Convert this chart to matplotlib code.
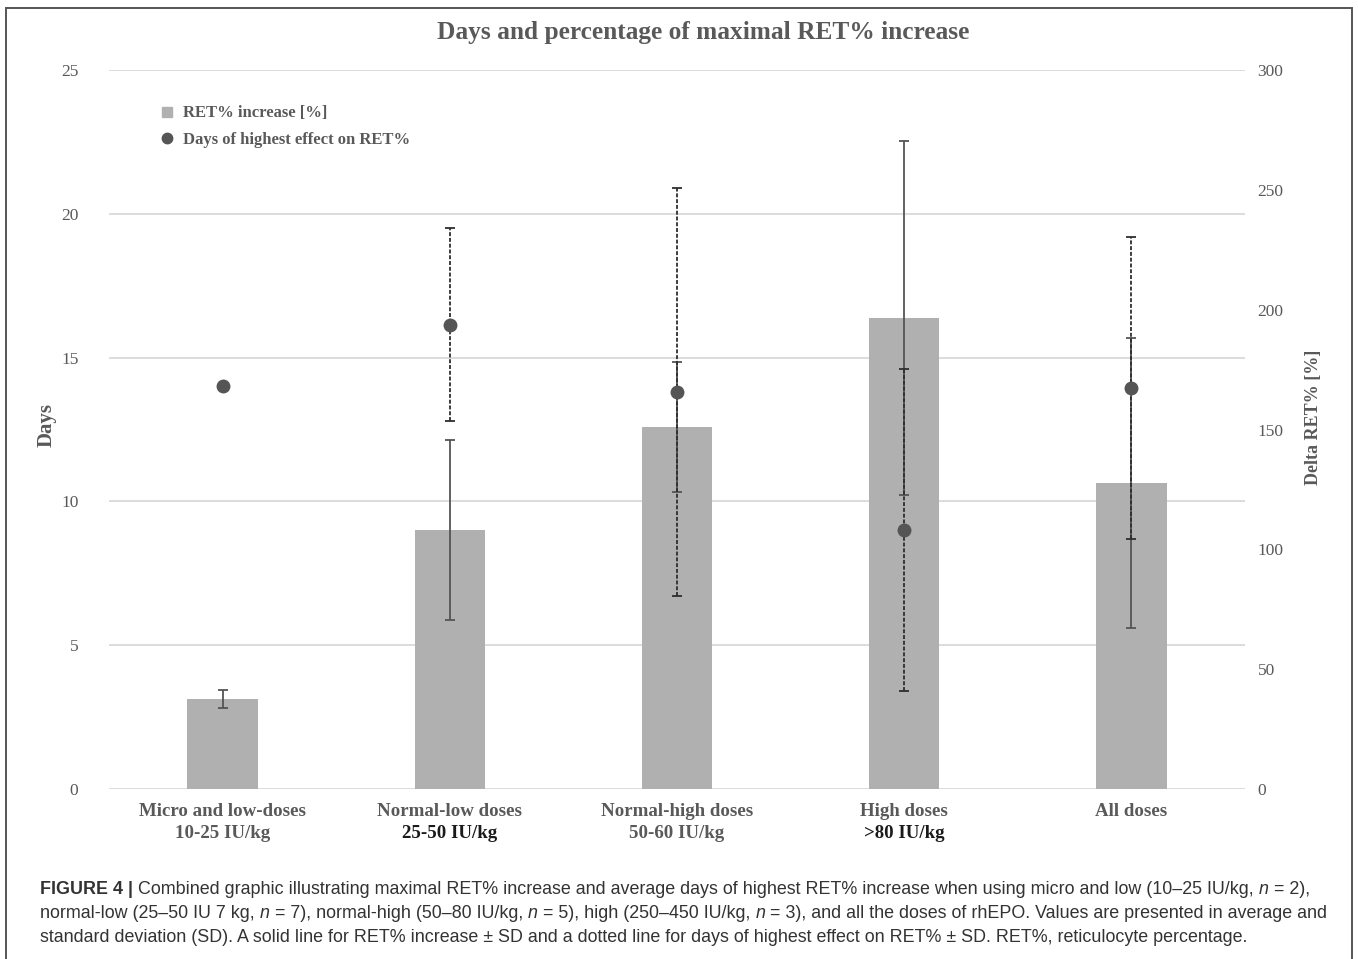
import matplotlib.pyplot as plt
from matplotlib.lines import Line2D
from matplotlib.patches import Rectangle
import numpy as np

plt.rcParams['font.family'] = ['Liberation Serif', 'DejaVu Serif']

# dose groups (two-line category labels)
group_names = ["Micro and low-doses", "Normal-low doses", "Normal-high doses", "High doses", "All doses"]
group_doses = ["10-25 IU/kg", "25-50 IU/kg", "50-60 IU/kg", ">80 IU/kg", ""]

# maximal RET% increase (right axis) with SD
ret_increase = [37.5, 108.0, 151.0, 196.5, 127.7]
ret_sd = [3.6, 37.5, 27.0, 74.0, 60.5]

# days of highest effect on RET% (left axis) with SD
peak_days = [14.0, 16.15, 13.8, 9.0, 13.95]
days_sd = [0.0, 3.35, 7.1, 5.6, 5.25]

day_ticks = [0, 5, 10, 15, 20, 25]
ret_ticks = [0, 50, 100, 150, 200, 250, 300]

W, H = 1358, 959
fig = plt.figure(figsize=(W / 100, H / 100), dpi=100)
pos = [109 / W, 1 - 789 / H, (1245 - 109) / W, (789 - 70) / H]

grey_txt = '#595959'
bar_col = '#b0b0b0'
grid_col = '#d9d9d9'

# bottom layer: days scale, gridlines
ax = fig.add_axes(pos)
ax.set_xlim(-0.5, len(group_names) - 0.5)
ax.set_ylim(day_ticks[0], day_ticks[-1])
ax.set_yticks(day_ticks)
ax.grid(axis='y', color=grid_col, lw=1.3)
ax.set_axisbelow(True)
ax.set_xticks([])
ax.tick_params(axis='y', length=0, pad=22, labelsize=12.5, labelcolor=grey_txt)
for s in ax.spines.values():
    s.set_visible(False)
ax.set_ylabel('Days', fontsize=15, fontweight='bold', color=grey_txt)
ax.yaxis.set_label_coords((57 - 109) / (1245 - 109), (789 - 425) / (789 - 70))

# middle layer: bars on the RET% scale
ax_ret = ax.twinx()
ax_ret.set_ylim(ret_ticks[0], ret_ticks[-1])
ax_ret.set_yticks(ret_ticks)
ax_ret.tick_params(axis='y', length=0, pad=9, labelsize=12.5, labelcolor=grey_txt)
for s in ax_ret.spines.values():
    s.set_visible(False)
ax_ret.set_ylabel('Delta RET% [%]', fontsize=13, fontweight='bold', color=grey_txt)
ax_ret.yaxis.set_label_coords((1305 - 109) / (1245 - 109), (789 - 417) / (789 - 70))

x = np.arange(len(group_names))
ax_ret.bar(x, ret_increase, width=0.31, color=bar_col, zorder=2)
ax_ret.errorbar(x, ret_increase, yerr=ret_sd, fmt='none', ecolor='#555555',
                elinewidth=1.3, capsize=3.5, capthick=1.3, zorder=3)

# top layer: points on the days scale
ax_pts = ax.twinx()
ax_pts.set_ylim(ax.get_ylim())
ax_pts.axis('off')
pts = ax_pts.errorbar(x, peak_days, yerr=days_sd, fmt='o', color='#555555', ms=9,
                      ecolor='#2e2e2e', elinewidth=1.3, capsize=3.5, capthick=1.3, zorder=4)
pts[2][0].set_linestyle((0, (2.2, 1.0)))

# category labels under the axis
xtr = ax.get_xaxis_transform()
dose_colors = [grey_txt, '#1a1a1a', grey_txt, '#1a1a1a', grey_txt]
for i, (name, dose) in enumerate(zip(group_names, group_doses)):
    ax.text(i, -0.0306, name, transform=xtr, ha='center', va='center',
            fontsize=13.6, fontweight='bold', color=grey_txt)
    if dose:
        ax.text(i, -0.0612, dose, transform=xtr, ha='center', va='center',
                fontsize=13.6, fontweight='bold', color=dose_colors[i])

# title
fig.text(703 / W, 1 - 33 / H, 'Days and percentage of maximal RET% increase',
         ha='center', va='center', fontsize=18.3, fontweight='bold', color=grey_txt)

# legend
handles = [Line2D([], [], ls='none', marker='s', ms=7, color=bar_col),
           Line2D([], [], ls='none', marker='o', ms=7.5, color='#555555')]
fig.legend(handles, ['RET% increase [%]', 'Days of highest effect on RET%'],
           loc='upper left', bbox_to_anchor=(152 / W, 1 - 97 / H), frameon=False,
           borderpad=0, handlelength=0.8, handletextpad=0.55, labelspacing=0.62,
           prop={'weight': 'bold', 'size': 12}, labelcolor=grey_txt)

# outer frame
fig.patches.append(Rectangle((6 / W, -0.05), (1352 - 6) / W, 1.05 - 8 / H,
                             transform=fig.transFigure, fill=False,
                             edgecolor='#555555', lw=1.4))

# caption, drawn run by run so bold/italic parts sit inline
cap_font = ['Liberation Sans Narrow', 'Liberation Sans']
cap_size = 12.85
renderer = fig.canvas.get_renderer()


def run_width(s, **kw):
    t = fig.text(0, 0, s, **kw)
    w = t.get_window_extent(renderer).width
    t.remove()
    return w


space_w = run_width('x x', family=cap_font, size=cap_size) - run_width('xx', family=cap_font, size=cap_size)

caption = [
    [('FIGURE 4 | ', 'bold', 'normal'),
     ('Combined graphic illustrating maximal RET% increase and average days of highest RET% increase '
      'when using micro and low (10–25 IU/kg, ', 'normal', 'normal'),
     ('n', 'normal', 'italic'), (' = 2),', 'normal', 'normal')],
    [('normal-low (25–50 IU 7 kg, ', 'normal', 'normal'), ('n', 'normal', 'italic'),
     (' = 7), normal-high (50–80 IU/kg, ', 'normal', 'normal'), ('n', 'normal', 'italic'),
     (' = 5), high (250–450 IU/kg, ', 'normal', 'normal'), ('n', 'normal', 'italic'),
     (' = 3), and all the doses of rhEPO. Values are presented in average and', 'normal', 'normal')],
    [('standard deviation (SD). A solid line for RET% increase ± SD and a dotted line for days of '
      'highest effect on RET% ± SD. RET%, reticulocyte percentage.', 'normal', 'normal')],
]
cap_rows = [889, 913, 938]

for row, y in zip(caption, cap_rows):
    xp = 40.0
    for txt, weight, style in row:
        lead = len(txt) - len(txt.lstrip(' '))
        trail = len(txt) - len(txt.rstrip(' '))
        core = txt.strip(' ')
        kw = dict(family=cap_font, size=cap_size, weight=weight, style=style)
        xp += lead * space_w
        fig.text(xp / W, 1 - y / H, core, va='center', ha='left', color='#333333', **kw)
        xp += run_width(core, **kw) + trail * space_w

fig.savefig('out.png', dpi=100)
